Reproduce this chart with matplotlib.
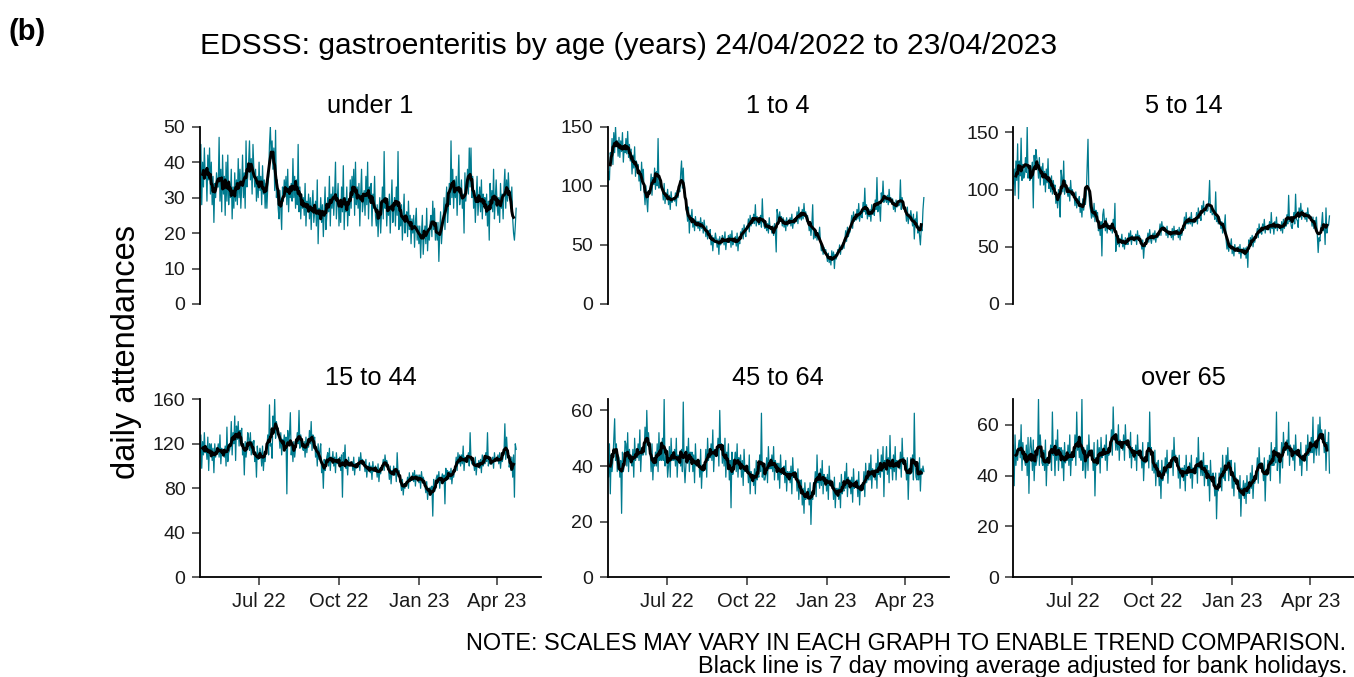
import numpy as np
import pandas as pd
import matplotlib
matplotlib.use("Agg")
import matplotlib.pyplot as plt
import matplotlib.dates as mdates

# --- Dados (leitura aproximada do gráfico, um valor por dia) ---
INICIO = "2022-04-24"
FIM = "2023-04-23"

GRUPOS = ["under 1", "1 to 4", "5 to 14", "15 to 44", "45 to 64", "over 65"]
Y_TICKS = [[0, 10, 20, 30, 40, 50], [0, 50, 100, 150], [0, 50, 100, 150],
           [0, 40, 80, 120, 160], [0, 20, 40, 60], [0, 20, 40, 60]]

UNDER_1 = """
30 45 28 40 33 44 36 38 29 42 35 44 31 40
28 36 23 34 30 37 33 33 47 29 38 26 42 31
36 25 40 29 42 28 34 30 38 24 33 27 37 29
35 28 41 30 38 27 33 42 30 37 27 46 33 36
40 46 35 41 31 45 38 33 38 29 36 30 40 32
36 28 39 31 35 27 34 27 33 36 45 50 41 46
38 44 32 49 30 35 27 24 32 27 21 33 29 35
31 36 28 38 26 33 30 34 29 41 30 36 27 35
28 45 26 33 24 31 27 30 25 34 22 29 26 31
24 30 21 28 32 23 26 29 22 35 17 27 24 30
23 28 19 26 33 21 25 30 26 36 22 31 27 33
25 31 40 24 29 34 22 28 23 33 26 39 21 30
26 33 22 29 25 35 27 36 30 38 25 40 28 33
27 34 22 31 38 26 29 32 25 36 28 40 24 33
29 34 22 31 27 36 25 22 28 19 25 30 20 26
33 24 43 27 30 22 29 25 31 20 28 35 23 27
30 22 33 25 43 21 28 22 28 18 25 31 20 24
26 19 29 21 25 17 24 20 25 16 23 27 18 22
17 22 13 20 25 14 19 22 17 27 15 21 18 23
25 19 29 21 27 18 23 18 23 12 20 26 17 21
24 30 21 28 33 23 27 34 28 46 30 38 27 35
30 36 25 33 42 28 31 35 27 31 20 37 29 33
38 31 44 33 44 30 36 27 32 23 30 36 25 29
33 26 35 24 31 28 30 25 31 22 29 18 34 27
32 26 38 24 30 35 28 25 30 23 34 27 31 24
33 38 27 35 29 37 31 30 27 33 24 20 18 22
27
"""

AGE_1_4 = """
100 112 105 128 121 140 118 145 128 150 133 138 125 141
124 138 129 145 120 133 128 140 127 146 124 135 121 131
110 126 115 133 108 121 117 118 104 112 96 120 105 114
95 84 100 88 78 96 93 98 110 92 107 101 115 97
112 100 140 98 106 103 99 96 88 102 85 94 90 97
84 92 80 95 86 89 90 87 94 83 96 90 98 95
110 121 98 115 95 92 85 78 70 82 60 75 72 80
65 72 62 74 66 70 64 70 62 73 64 69 60 71
64 57 66 55 62 58 63 50 58 45 56 52 60 55
48 55 42 57 50 53 58 56 50 61 46 55 52 58
52 59 48 62 50 55 53 57 49 60 45 55 51 61
58 64 55 67 60 57 66 64 72 61 75 66 70 68
76 68 84 66 74 70 67 68 75 65 89 70 66 64
70 62 68 60 73 64 65 60 66 58 68 62 44 80
75 68 78 70 74 66 73 65 71 62 73 66 70 69
73 66 76 64 71 68 72 70 78 68 82 72 77 71
80 72 85 74 78 70 75 70 62 68 58 66 84 55
64 56 62 54 60 58 65 52 45 50 42 48 44 46
41 36 43 35 40 33 45 37 44 30 42 38 41 46
44 50 42 49 46 52 47 55 62 53 65 57 60 61
68 75 64 78 70 72 71 80 72 85 70 78 74 73
86 78 98 76 84 72 80 74 80 70 84 76 79 75
88 80 107 78 85 82 70 94 87 104 86 92 88 86
92 84 97 86 90 85 89 80 86 78 88 82 85 83
84 105 80 90 85 83 82 78 70 82 68 76 72 79
73 66 76 55 72 68 78 60 66 58 50 64 62 80
90
"""

AGE_5_14 = """
105 118 95 125 108 140 92 125 112 145 108 122 110 113
128 115 155 110 120 108 112 114 124 84 130 118 135 128
122 110 128 104 120 112 123 104 116 98 118 106 127 101
110 98 112 96 108 100 104 88 96 84 100 90 76 117
110 98 125 96 108 100 98 94 102 90 108 96 100 96
95 86 98 84 92 88 94 80 88 76 92 82 90 87
95 120 144 98 86 82 75 84 76 88 72 82 78 80
64 70 60 72 42 78 83 72 64 75 62 70 66 67
64 70 62 74 65 88 46 58 52 60 50 57 54 61
50 56 48 58 52 55 52 62 55 64 52 60 56 57
55 61 52 64 56 60 58 54 48 56 40 52 50 57
56 62 54 65 57 53 59 62 56 64 54 60 58 59
63 70 60 72 65 68 64 66 60 68 58 64 62 63
58 66 56 68 60 64 62 65 58 67 56 63 60 65
68 76 66 80 70 74 70 76 70 80 68 74 71 72
72 80 70 84 75 78 73 86 80 90 78 84 82 81
82 90 108 80 85 78 79 80 74 98 72 76 70 76
74 66 72 62 70 68 78 56 48 54 46 53 50 57
44 50 42 52 46 49 46 50 44 52 40 48 46 49
43 49 40 50 32 56 52 58 52 60 50 57 54 61
60 66 58 70 62 64 61 70 64 74 62 68 66 65
65 72 62 80 66 70 61 72 66 76 64 70 67 68
64 72 62 74 66 70 68 78 70 95 72 76 68 66
72 80 70 96 74 73 67 84 76 88 74 82 78 78
74 80 72 84 76 78 75 75 68 76 66 73 70 76
60 45 58 55 66 70 80 64 70 52 84 62 68 69
77
"""

AGE_15_44 = """
112 128 98 122 110 130 112 118 106 126 96 120 112 120
105 116 94 120 108 114 113 120 108 128 102 116 110 114
108 118 100 135 104 112 114 118 140 110 130 120 145 105
136 124 140 118 132 126 134 110 120 92 122 108 116 130
125 114 130 110 122 116 123 104 112 90 118 106 110 116
112 100 118 96 110 104 116 116 128 110 155 118 120 107
145 130 160 125 140 132 134 128 116 130 110 124 118 128
118 126 75 132 120 128 148 110 118 104 122 108 116 120
130 120 150 116 128 122 116 114 122 108 126 112 120 117
132 120 140 114 128 122 126 108 116 100 120 106 114 120
94 102 80 106 96 100 108 112 100 116 96 108 104 113
100 108 94 112 102 106 106 108 96 110 72 112 104 119
98 104 92 108 100 102 103 104 96 108 92 102 98 100
100 108 96 112 102 106 104 102 95 106 90 100 97 103
94 100 88 104 95 98 100 98 90 102 86 96 93 100
100 106 96 110 102 105 102 98 88 100 84 96 92 100
92 98 86 112 94 96 87 85 78 88 74 84 80 85
84 90 80 94 86 88 87 94 86 96 82 92 88 92
85 92 80 95 87 90 87 82 76 86 70 80 78 81
75 82 55 88 77 80 89 92 85 95 80 90 88 93
85 92 66 98 87 96 92 95 88 98 84 93 90 96
100 108 96 112 102 110 100 110 102 118 96 108 104 104
104 112 100 130 106 102 102 104 96 108 92 102 100 105
98 106 94 110 100 104 102 112 104 130 100 106 102 102
102 108 98 112 104 106 105 110 102 112 98 108 104 108
112 138 106 126 110 114 99 104 96 108 90 110 72 120
115
"""

AGE_45_64 = """
42 36 48 30 44 38 42 50 57 42 48 38 44 43
36 42 23 45 38 40 49 48 40 52 38 46 42 42
40 46 36 50 42 44 43 48 42 53 38 46 44 44
46 54 44 60 48 52 46 45 38 48 35 43 40 45
40 48 38 52 42 46 42 50 42 64 40 46 44 36
40 47 36 50 42 44 42 46 40 50 36 44 42 43
40 46 38 63 40 34 40 47 41 50 38 45 42 45
38 44 34 48 40 42 41 42 36 46 32 40 38 39
40 46 36 50 42 44 43 48 42 53 38 46 44 44
44 50 40 60 46 48 41 47 40 50 36 45 42 48
35 42 25 45 37 40 42 45 38 48 36 43 40 44
36 42 33 46 38 40 38 40 34 44 30 38 36 37
33 39 30 42 35 37 36 44 38 59 36 40 35 35
37 43 34 47 39 41 39 44 38 47 35 42 40 41
35 41 32 44 37 39 38 40 34 42 31 38 36 38
34 40 30 43 36 38 38 37 31 39 28 35 33 35
26 32 23 34 28 30 30 32 26 34 19 30 28 34
32 38 29 44 34 36 32 39 33 42 30 37 35 36
31 37 28 40 33 35 34 34 28 36 25 32 30 32
28 34 25 37 30 32 31 38 32 41 29 36 34 35
30 36 27 39 32 34 33 35 29 38 26 33 31 32
32 38 29 41 34 36 35 41 35 44 32 39 37 38
35 41 32 46 37 39 36 44 38 47 29 42 40 47
37 43 34 51 39 41 35 44 38 47 35 42 40 41
39 45 36 50 41 43 40 41 35 43 28 39 37 43
38 44 35 59 40 36 35 41 35 43 31 39 37 40
38
"""

OVER_65 = """
52 36 56 44 50 46 52 54 47 60 42 53 48 46
44 52 40 55 33 50 55 50 42 54 38 48 44 46
48 70 44 56 50 45 44 50 42 54 36 47 44 49
46 52 42 65 48 50 40 54 46 58 42 51 48 51
43 50 38 53 45 47 46 52 44 56 40 49 46 49
48 56 44 65 50 54 47 54 46 70 42 51 48 39
46 52 42 56 48 50 49 50 42 53 32 47 44 54
45 51 41 55 47 49 48 52 46 56 42 50 48 49
52 58 48 67 54 56 50 56 50 60 46 54 52 53
50 56 46 60 52 54 53 53 47 57 43 51 49 50
46 52 42 56 48 50 49 49 43 53 38 47 45 47
47 53 43 65 49 51 42 47 41 50 36 45 43 46
36 42 31 46 38 40 40 47 41 50 37 45 43 45
44 50 40 55 46 48 46 45 39 48 35 43 41 43
38 44 34 48 40 42 41 45 39 48 35 43 41 43
41 47 37 55 43 45 40 46 40 49 36 44 42 44
36 42 30 46 38 40 41 38 32 41 23 36 34 41
37 43 34 48 39 41 38 48 42 51 38 46 44 46
35 41 32 45 37 39 37 37 31 40 24 35 33 38
31 37 29 40 33 35 33 41 35 44 31 39 37 39
41 47 37 51 43 45 44 44 38 47 30 42 40 46
42 48 38 53 44 46 44 51 45 65 42 49 47 37
47 53 43 57 49 51 50 54 48 61 44 52 50 48
46 52 42 56 48 50 49 50 44 53 40 48 46 48
46 52 42 56 48 50 49 55 49 63 45 53 51 48
53 60 48 63 55 58 55 55 49 58 42 53 50 57
41
"""

SERIES = [UNDER_1, AGE_1_4, AGE_5_14, AGE_15_44, AGE_45_64, OVER_65]

TITULO = "EDSSS: gastroenteritis by age (years) 24/04/2022 to 23/04/2023"
NOTA_1 = "NOTE: SCALES MAY VARY IN EACH GRAPH TO ENABLE TREND COMPARISON."
NOTA_2 = "Black line is 7 day moving average adjusted for bank holidays."

TEAL = "#007B8F"
W, H = 1354, 677


def ler_serie(texto: str) -> pd.Series:
    """Converte o bloco de texto numa série diária indexada por data."""
    datas = pd.date_range(INICIO, FIM, freq="D")
    valores = np.array(texto.split(), dtype=float)
    return pd.Series(valores, index=datas)


def desenhar_painel(fig, i, serie, titulo, ticks):
    linha, coluna = divmod(i, 3)
    esquerda = [200, 607.7, 1013.3][coluna]
    if linha == 0:
        base, altura = 304, 177.3
    else:
        base, altura = 577.3, 178
    ax = fig.add_axes([esquerda / W, (H - base) / H, 341 / W, altura / H])

    media = serie.rolling(7, center=True).mean()
    ax.plot(serie.index, serie.values, color=TEAL, lw=0.9)
    ax.plot(media.index, media.values, color="black", lw=2.1)

    ax.set_xlim(serie.index[0], serie.index[0] + pd.Timedelta(days=392.6))
    ax.set_ylim(0, serie.max())
    ax.set_yticks(ticks)
    ax.xaxis.set_major_locator(mdates.MonthLocator(bymonth=[1, 4, 7, 10]))
    ax.xaxis.set_major_formatter(mdates.DateFormatter("%b %y"))

    for lado in ["top", "right"]:
        ax.spines[lado].set_visible(False)
    for lado in ["left", "bottom"]:
        ax.spines[lado].set_linewidth(1.3)
        ax.spines[lado].set_color("black")

    ax.tick_params(axis="y", length=5.5, width=1.1, color="#333333",
                   labelsize=14, pad=5, labelcolor="#1a1a1a")
    ax.tick_params(axis="x", length=5.5, width=1.1, color="#333333",
                   labelsize=14.5, pad=5, labelcolor="#1a1a1a")
    if linha == 0:
        ax.spines["bottom"].set_visible(False)
        ax.tick_params(axis="x", bottom=False, labelbottom=False)

    ax.text(0.5, 1 + 14 / altura, titulo, transform=ax.transAxes,
            ha="center", va="baseline", fontsize=18.3)
    return ax


if __name__ == "__main__":
    plt.rcParams["font.family"] = ["Liberation Sans", "DejaVu Sans"]
    fig = plt.figure(figsize=(W / 100, H / 100), dpi=100)

    for i, (texto, nome) in enumerate(zip(SERIES, GRUPOS)):
        desenhar_painel(fig, i, ler_serie(texto), nome, Y_TICKS[i])

    fig.text(8 / W, 1 - 40 / H, "(b)", fontsize=21, fontweight="bold", va="baseline")
    fig.text(200 / W, 1 - 54 / H, TITULO, fontsize=21.6, va="baseline")
    fig.text(127 / W, 1 - 352 / H, "daily attendances", rotation=90,
             ha="center", va="center", fontsize=23.5)
    fig.text(1346 / W, 1 - 650 / H, NOTA_1, ha="right", va="baseline", fontsize=16.9)
    fig.text(1348 / W, 1 - 673 / H, NOTA_2, ha="right", va="baseline", fontsize=16.9)

    fig.savefig("out.png", dpi=100)
    plt.close(fig)
